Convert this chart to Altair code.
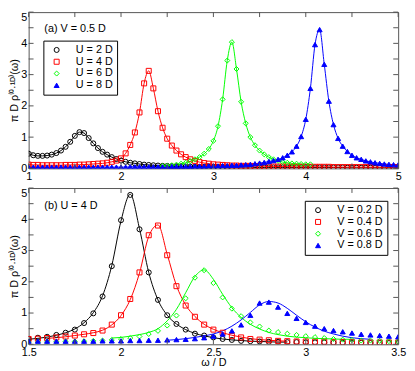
import altair as alt
import pandas as pd

FONT = "Liberation Sans"

# ---------------- panel (a): V = 0.5 D ----------------
omega_a = [round(1.0 + 0.05 * i, 2) for i in range(81)]
omega_a_u6 = [round(2.45 + 0.05 * i, 2) for i in range(33)]
labels_a = ["U = 2 D", "U = 4 D", "U = 6 D", "U = 8 D"]

u2 = [0.47, 0.42, 0.40, 0.40, 0.41, 0.44, 0.49, 0.57, 0.69, 0.85,
      1.04, 1.16, 1.13, 0.97, 0.80, 0.65, 0.53, 0.44, 0.36, 0.30,
      0.25, 0.21, 0.18, 0.16, 0.14, 0.12, 0.11, 0.10, 0.09, 0.08,
      0.08, 0.07, 0.07, 0.06, 0.06, 0.06, 0.05, 0.05, 0.05, 0.05,
      0.04, 0.04, 0.04, 0.04, 0.04, 0.04, 0.04, 0.04, 0.04, 0.03,
      0.03, 0.03, 0.03, 0.03, 0.03, 0.03, 0.03, 0.03, 0.03, 0.03,
      0.03, 0.03, 0.03, 0.03, 0.03, 0.03, 0.03, 0.03, 0.03, 0.02,
      0.02, 0.02, 0.02, 0.02, 0.02, 0.02, 0.02, 0.02, 0.02, 0.02,
      0.02]
u4 = [0.12, 0.11, 0.11, 0.10, 0.10, 0.10, 0.10, 0.10, 0.11, 0.11,
      0.11, 0.12, 0.12, 0.13, 0.14, 0.15, 0.16, 0.18, 0.21, 0.25,
      0.32, 0.48, 0.75, 1.15, 1.79, 2.72, 3.12, 2.56, 1.83, 1.30,
      0.95, 0.73, 0.57, 0.45, 0.36, 0.29, 0.24, 0.20, 0.17, 0.15,
      0.13, 0.12, 0.11, 0.10, 0.09, 0.09, 0.08, 0.08, 0.08, 0.07,
      0.07, 0.07, 0.06, 0.06, 0.06, 0.06, 0.06, 0.05, 0.05, 0.05,
      0.05, 0.05, 0.05, 0.05, 0.05, 0.05, 0.04, 0.04, 0.04, 0.04,
      0.04, 0.04, 0.04, 0.04, 0.04, 0.04, 0.04, 0.04, 0.04, 0.04,
      0.04]
u6 = [0.08, 0.09, 0.10, 0.12, 0.15, 0.18, 0.23, 0.29, 0.36, 0.47,
      0.62, 0.88, 1.35, 2.21, 3.45, 4.04, 3.18, 2.13, 1.44, 1.00,
      0.74, 0.57, 0.45, 0.36, 0.29, 0.24, 0.20, 0.18, 0.16, 0.15,
      0.14, 0.13, 0.13]
u8 = [0.04, 0.04, 0.04, 0.04, 0.04, 0.04, 0.04, 0.04, 0.04, 0.04,
      0.04, 0.04, 0.04, 0.04, 0.04, 0.04, 0.04, 0.04, 0.04, 0.04,
      0.04, 0.04, 0.05, 0.05, 0.05, 0.05, 0.05, 0.05, 0.05, 0.05,
      0.05, 0.06, 0.06, 0.06, 0.06, 0.06, 0.07, 0.07, 0.07, 0.08,
      0.08, 0.08, 0.09, 0.09, 0.10, 0.10, 0.11, 0.12, 0.13, 0.15,
      0.17, 0.19, 0.22, 0.25, 0.29, 0.34, 0.42, 0.53, 0.71, 1.02,
      1.57, 2.56, 3.96, 4.44, 3.33, 2.15, 1.40, 0.96, 0.71, 0.54,
      0.42, 0.34, 0.29, 0.24, 0.21, 0.18, 0.16, 0.14, 0.13, 0.12,
      0.11]

# ---------------- panel (b): U = 4 D ----------------
omega_b = [round(1.5 + 0.05 * i, 2) for i in range(41)]
labels_b = ["V = 0.2 D", "V = 0.4 D", "V = 0.6 D", "V = 0.8 D"]

v02 = [0.17, 0.21, 0.24, 0.30, 0.37, 0.47, 0.68, 0.99, 1.53, 2.50,
       3.97, 4.78, 3.68, 2.30, 1.42, 0.93, 0.65, 0.47, 0.34, 0.28,
       0.22, 0.17, 0.14, 0.11, 0.10, 0.09, 0.08, 0.08, 0.07, 0.07,
       0.06, 0.06, 0.06, 0.05, 0.05, 0.05, 0.05, 0.04, 0.04, 0.04,
       0.04]
v04 = [0.17, 0.18, 0.20, 0.22, 0.25, 0.28, 0.32, 0.36, 0.44, 0.63,
       0.93, 1.45, 2.30, 3.49, 3.80, 2.85, 1.86, 1.24, 0.88, 0.63,
       0.47, 0.37, 0.27, 0.22, 0.17, 0.15, 0.13, 0.11, 0.10, 0.09,
       0.09, 0.08, 0.08, 0.07, 0.07, 0.07, 0.06, 0.06, 0.06, 0.06,
       0.06]
v06 = [0.07, 0.07, 0.08, 0.08, 0.09, 0.09, 0.10, 0.11, 0.12, 0.14,
       0.17, 0.20, 0.25, 0.33, 0.43, 0.60, 0.92, 1.47, 2.13, 2.37,
       1.96, 1.50, 1.14, 0.90, 0.70, 0.57, 0.44, 0.39, 0.34, 0.30,
       0.26, 0.23, 0.20, 0.17, 0.15, 0.14, 0.12, 0.12, 0.11, 0.10,
       0.09]
v08 = [0.10, 0.10, 0.10, 0.10, 0.10, 0.10, 0.10, 0.10, 0.11, 0.11,
       0.11, 0.12, 0.12, 0.13, 0.13, 0.14, 0.15, 0.16, 0.18, 0.21,
       0.26, 0.33, 0.43, 0.62, 0.93, 1.32, 1.35, 1.19, 0.99, 0.83,
       0.70, 0.58, 0.50, 0.44, 0.40, 0.36, 0.32, 0.30, 0.28, 0.26,
       0.24]

# solid curves of panel (b)
line_w_v02 = [round(1.5 + 0.05 * i, 2) for i in range(29)]
line_v02 = [0.16, 0.19, 0.23, 0.29, 0.37, 0.49, 0.69, 1.01, 1.55, 2.52,
            3.95, 4.80, 3.70, 2.30, 1.42, 0.93, 0.65, 0.47, 0.35, 0.27,
            0.21, 0.17, 0.14, 0.12, 0.10, 0.09, 0.08, 0.07, 0.07]
line_w_v04 = [round(1.6 + 0.05 * i, 2) for i in range(27)]
line_v04 = [0.19, 0.21, 0.24, 0.28, 0.32, 0.37, 0.45, 0.62, 0.92, 1.43,
            2.28, 3.45, 3.82, 2.88, 1.88, 1.26, 0.89, 0.64, 0.48, 0.37,
            0.29, 0.23, 0.18, 0.15, 0.13, 0.11, 0.10]
line_w_v06 = [round(1.95 + 0.05 * i, 2) for i in range(27)]
line_v06 = [0.20, 0.22, 0.26, 0.31, 0.38, 0.50, 0.75, 1.12, 1.65, 2.17,
            2.38, 2.08, 1.60, 1.17, 0.86, 0.64, 0.49, 0.38, 0.31, 0.26,
            0.23, 0.21, 0.19, 0.18, 0.17, 0.16, 0.16]
line_w_v08 = [round(2.25 + 0.05 * i, 2) for i in range(23)]
line_v08 = [0.13, 0.15, 0.18, 0.22, 0.27, 0.33, 0.43, 0.58, 0.78, 1.02,
            1.26, 1.37, 1.32, 1.15, 0.93, 0.72, 0.55, 0.42, 0.33, 0.26,
            0.21, 0.18, 0.16]

colors = ["#000000", "#ff0000", "#00ff00", "#0000ff"]
fills = ["transparent", "transparent", "transparent", "#0000ff"]
shapes = ["circle", "square", "diamond", "triangle-up"]

yticks = [0, 0.5, 1, 1.5, 2, 2.5, 3, 3.5, 4, 4.5, 5]
ylabels = [0, 1, 2, 3, 4, 5]
ytitle = "π D ρ⁽⁰·¹ᴰ⁾(ω)"

xticks_a = [1, 1.5, 2, 2.5, 3, 3.5, 4, 4.5, 5]
xlabels_a = [1, 2, 3, 4, 5]
xticks_b = [1.5, 1.75, 2, 2.25, 2.5, 2.75, 3, 3.25, 3.5]
xlabels_b = [1.5, 2, 2.5, 3, 3.5]

W, H = 376, 159
FRAME = "#555555"


def frame_df(ws, series_vals, labels, key):
    rows = []
    for w_list, vals, lab in zip(ws, series_vals, labels):
        for w, v in zip(w_list, vals):
            rows.append({"w": w, "v": v, key: lab})
    return pd.DataFrame(rows)


def panel(pts, lines, key, labels, xdom, xticks, xlabels, xtitle, leg, note_y, note):
    xscale = alt.Scale(domain=xdom, nice=False, zero=False)
    yscale = alt.Scale(domain=[0, 5], nice=False, zero=False)
    xaxis = alt.Axis(values=xlabels, labelExpr="'' + datum.value", ticks=False,
                     domain=False, grid=False, labelPadding=2, titlePadding=0,
                     labelFlush=False)
    base = {"condition": {"test": "datum.value == 5", "value": "top"}, "value": "middle"}
    yaxis = alt.Axis(values=ylabels, ticks=False, domain=False, grid=False,
                     labelPadding=2, titlePadding=1, labelBaseline=base)
    X = alt.X("w:Q", scale=xscale, axis=xaxis, title=xtitle)
    Y = alt.Y("v:Q", scale=yscale, axis=yaxis, title=ytitle)
    stroke_scale = alt.Scale(domain=labels, range=colors)

    line_layer = alt.Chart(lines).mark_line(strokeWidth=1, interpolate="monotone", clip=True).encode(
        x=X, y=Y,
        stroke=alt.Stroke(f"{key}:N", scale=stroke_scale, legend=leg),
        detail=f"{key}:N", order="w:Q")

    pt_layer = alt.Chart(pts).mark_point(strokeWidth=1, opacity=1, size=26, clip=True).encode(
        x=X, y=Y,
        stroke=alt.Stroke(f"{key}:N", scale=stroke_scale, legend=leg),
        fill=alt.Fill(f"{key}:N", scale=alt.Scale(domain=labels, range=fills), legend=leg),
        shape=alt.Shape(f"{key}:N", scale=alt.Scale(domain=labels, range=shapes), legend=leg))

    xt = pd.DataFrame({"w": xticks})
    yt = pd.DataFrame({"v": yticks})
    tk_bottom = alt.Chart(xt).mark_rule(color=FRAME, strokeWidth=1).encode(
        x=X, y=alt.value(H), y2=alt.value(H - 5))
    tk_top = alt.Chart(xt).mark_rule(color=FRAME, strokeWidth=1).encode(
        x=X, y=alt.value(0), y2=alt.value(5))
    tk_left = alt.Chart(yt).mark_rule(color=FRAME, strokeWidth=1).encode(
        y=Y, x=alt.value(0), x2=alt.value(5))
    tk_right = alt.Chart(yt).mark_rule(color=FRAME, strokeWidth=1).encode(
        y=Y, x=alt.value(W), x2=alt.value(W - 5))

    txt = alt.Chart(pd.DataFrame({"t": [note]})).mark_text(
        align="left", baseline="middle", font=FONT, fontSize=11, color="black").encode(
        text="t:N", x=alt.value(16), y=alt.value(note_y))

    return alt.layer(line_layer, pt_layer, tk_bottom, tk_top, tk_left, tk_right, txt).properties(
        width=W, height=H)


def legend(x, y):
    return alt.Legend(orient="none", legendX=x, legendY=y, title=None,
                      strokeColor="black", fillColor="white", padding=4, rowPadding=0,
                      labelOffset=14, symbolSize=26, symbolStrokeWidth=1,
                      symbolOffset=4, symbolType="circle")


pts_a = frame_df([omega_a, omega_a, omega_a_u6, omega_a], [u2, u4, u6, u8], labels_a, "sa")
top = panel(pts_a, pts_a, "sa", labels_a, [1, 5], xticks_a, xlabels_a, None,
            legend(15, 29), 17, "(a) V = 0.5 D")

pts_b = frame_df([omega_b] * 4, [v02, v04, v06, v08], labels_b, "sb")
lines_b = frame_df([line_w_v02, line_w_v04, line_w_v06, line_w_v08],
                   [line_v02, line_v04, line_v06, line_v08], labels_b, "sb")
bottom = panel(pts_b, lines_b, "sb", labels_b, [1.5, 3.5], xticks_b, xlabels_b, "ω / D",
               legend(281, 13), 18, "(b) U = 4 D")

chart = alt.vconcat(top, bottom, spacing=5).resolve_scale(
    x="independent", y="independent", stroke="independent", fill="independent",
    shape="independent"
).properties(
    padding=0
).configure_view(stroke=FRAME, strokeWidth=1).configure_axis(
    labelFont=FONT, titleFont=FONT, labelFontSize=11, titleFontSize=11,
    titleFontWeight="normal", labelColor="black", titleColor="black"
).configure_legend(labelFont=FONT, labelFontSize=11, labelColor="black")

chart.save("out.html", embed_options={"renderer": "svg", "actions": False})
